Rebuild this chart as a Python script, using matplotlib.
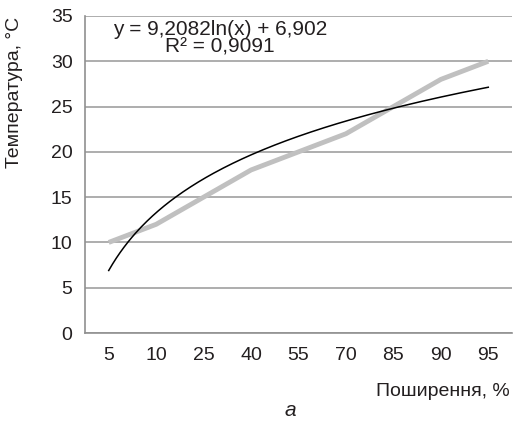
import matplotlib.pyplot as plt
import numpy as np

categories = ['5', '10', '25', '40', '55', '70', '85', '90', '95']
temperature = [10, 12, 15, 18, 20, 22, 25, 28, 30]
coef_a = 9.2082
coef_b = 6.902

plt.rcParams['font.family'] = ['Liberation Sans', 'DejaVu Sans']

fig = plt.figure(figsize=(5.14, 4.24), dpi=100)
ax = fig.add_axes([85 / 514, 1 - 333 / 424, 427 / 514, 317 / 424])

x = np.arange(1, len(categories) + 1)
ax.plot(x, temperature, color='#c0c0c0', linewidth=3.5, solid_capstyle='butt', zorder=3)

# logarithmic trend line over category index
xt = np.linspace(1, len(categories), 200)
ax.plot(xt, coef_a * np.log(xt) + coef_b, color='black', linewidth=1.1, zorder=4)

ax.set_xlim(0.5, len(categories) + 0.5)
ax.set_ylim(0, 35)
ax.set_yticks(np.arange(0, 36, 5))
ax.set_xticks(x)
ax.set_xticklabels(categories)
ax.yaxis.grid(True, color='#a0a0a0', linewidth=1.2)
ax.set_axisbelow(True)
for s in ['top', 'right']:
    ax.spines[s].set_visible(False)
for s in ['left', 'bottom']:
    ax.spines[s].set_color('#909090')
    ax.spines[s].set_linewidth(1.2)
ax.tick_params(length=0, labelsize=14, pad=10, colors='#231f20')
ax.tick_params(axis='y', pad=9)

fig.text(220 / 514, 1 - 20 / 424, 'y = 9,2082ln(x) + 6,902\nR² = 0,9091', ha='center', va='top',
         fontsize=15, color='#231f20', linespacing=0.9, multialignment='center')

fig.text(15 / 514, 1 - 92 / 424, 'Температура, °C', rotation=90, ha='center', va='center',
         fontsize=14, color='#231f20')
fig.text(510 / 514, 1 - 391 / 424, 'Поширення, %', ha='right', va='center',
         fontsize=14, color='#231f20')
fig.text(290 / 514, 1 - 411 / 424, 'а', ha='center', va='center', fontsize=15,
         style='italic', color='#231f20')

fig.savefig('out.png', dpi=100)
